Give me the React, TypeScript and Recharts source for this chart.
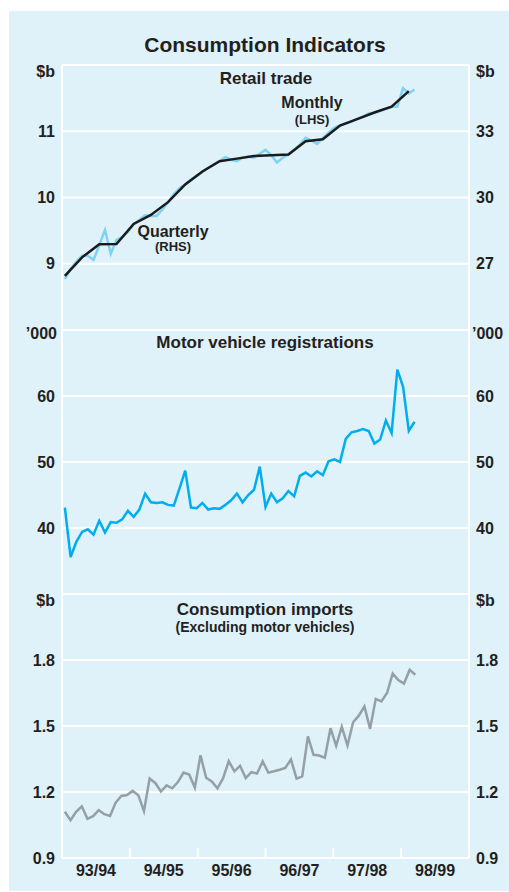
import React from "react";
import { LineChart, Line, XAxis, YAxis, CartesianGrid } from "recharts";

// monthly, Jul 1993 onwards ('000 registrations)
const motorVehicles = [
  43.1, 35.6, 37.9, 39.4, 39.8, 39.0, 41.1, 39.3, 40.9, 40.8, 41.3, 42.6,
  41.7, 42.8, 45.2, 43.9, 43.8, 43.9, 43.5, 43.4, 46.0, 48.7, 43.1, 43.0,
  43.8, 42.8, 43.0, 42.9, 43.5, 44.2, 45.2, 43.9, 45.0, 45.8, 49.3, 43.2,
  45.2, 43.9, 44.5, 45.6, 44.8, 47.9, 48.4, 47.8, 48.6, 48.0, 50.1, 50.4,
  50.0, 53.5, 54.5, 54.7, 55.0, 54.7, 52.8, 53.4, 56.3, 54.4, 64.0, 61.4,
  54.7, 56.1,
];

// retail trade, monthly $b (LHS)
const retailMonthly = [
  8.77, 8.92, 9.03, 9.12, 9.12, 9.06, 9.28, 9.51, 9.15, 9.36, 9.4, 9.48,
  9.6, 9.66, 9.73, 9.72, 9.72, 9.82, 9.93, 10.05, 10.14, 10.2, 10.27, 10.33,
  10.39, 10.45, 10.5, 10.55, 10.61, 10.57, 10.55, 10.6, 10.62, 10.6, 10.66, 10.72,
  10.64, 10.53, 10.6, 10.65, 10.72, 10.8, 10.9, 10.86, 10.81, 10.9, 10.98, 11.05,
  11.09, 11.12, 11.15, 11.19, 11.22, 11.27, 11.28, 11.31, 11.34, 11.37, 11.37, 11.65,
  11.57, 11.63,
];

// retail trade, quarterly $b (RHS)
const retailQuarterly = [
  26.45, 27.29, 27.88, 27.89, 28.8, 29.21, 29.79, 30.59, 31.18, 31.64, 31.76,
  31.88, 31.91, 31.95, 32.55, 32.64, 33.26, 33.55, 33.85, 34.11, 34.82,
];

// consumption imports excl. motor vehicles, monthly $b
const imports = [
  1.11, 1.072, 1.11, 1.135, 1.078, 1.09, 1.117, 1.099, 1.091, 1.152, 1.182, 1.186,
  1.205, 1.185, 1.113, 1.261, 1.241, 1.202, 1.23, 1.217, 1.245, 1.288, 1.279, 1.22,
  1.367, 1.265, 1.248, 1.217, 1.263, 1.34, 1.294, 1.319, 1.263, 1.29, 1.284, 1.339,
  1.288, 1.294, 1.301, 1.309, 1.348, 1.261, 1.271, 1.453, 1.369, 1.366, 1.356, 1.49,
  1.41, 1.497, 1.411, 1.517, 1.547, 1.589, 1.487, 1.623, 1.612, 1.65, 1.738, 1.709,
  1.693, 1.755, 1.733,
];

const yearLabels = ["93/94", "94/95", "95/96", "96/97", "97/98", "98/99"];

const BG = "#dff1f9";
const INK = "#231f20";
const FONT = '"Liberation Sans", Arial, Helvetica, sans-serif';
const W = 500;
const LEFT_W = 53;
const RIGHT_W = 40;

const retailRows = retailMonthly.map((m, i) => ({
  x: i + 0.5,
  m,
  q: i % 3 === 0 && retailQuarterly[i / 3] !== undefined ? retailQuarterly[i / 3] : null,
}));
const mvRows = motorVehicles.map((v, i) => ({ x: i + 0.5, v }));
const importRows = imports.map((v, i) => ({ x: i + 0.5, v }));

const tickStyle = { fill: INK, fontSize: 16, fontWeight: 700, fontFamily: FONT };
const border = { stroke: "#fff", strokeWidth: 2 };

const hideEdges = (lo: number | null, hi: number | null, digits = 0) => (v: number) =>
  (lo !== null && v <= lo + 1e-9) || (hi !== null && v >= hi - 1e-9) ? "" : v.toFixed(digits);

function YearTick(props: any) {
  const { x, y, payload } = props;
  const v = payload.value;
  if (v % 12 === 0) {
    return <line x1={x} x2={x} y1={y} y2={y - 10} stroke="#fff" strokeWidth={2} />;
  }
  return (
    <text x={x} y={y + 12} dy="0.355em" textAnchor="middle" {...tickStyle}>
      {yearLabels[(v - 6) / 12]}
    </text>
  );
}

function Txt({ x, y, size, children, align = "center" }: any) {
  const tx = align === "center" ? "-50%" : align === "right" ? "-100%" : "0";
  return (
    <div
      style={{
        position: "absolute",
        left: x,
        top: y,
        transform: `translate(${tx}, -50%)`,
        fontFamily: FONT,
        fontWeight: 700,
        fontSize: size,
        lineHeight: 1,
        color: INK,
        whiteSpace: "nowrap",
      }}
    >
      {children}
    </div>
  );
}

// left + right value axes, same look on every panel
function valueAxes(domain: number[], ticks: number[], fmt: (v: number) => string, rightDomain = domain, rightTicks = ticks, rightFmt = fmt) {
  return [
    <YAxis
      key="l"
      width={LEFT_W}
      domain={domain}
      ticks={ticks}
      type="number"
      tickFormatter={fmt}
      tick={tickStyle}
      tickSize={0}
      tickMargin={7}
      axisLine={border}
      allowDataOverflow
    />,
    <YAxis
      key="r"
      yAxisId="r"
      orientation="right"
      width={RIGHT_W}
      domain={rightDomain}
      ticks={rightTicks}
      type="number"
      tickFormatter={rightFmt}
      tick={tickStyle}
      tickSize={0}
      tickMargin={7}
      axisLine={border}
      allowDataOverflow
    />,
  ];
}

export default function App() {
  return (
    <div
      style={{
        position: "absolute",
        left: 9,
        top: 11,
        width: W,
        height: 880,
        background: BG,
        overflow: "hidden",
      }}
    >
      {/* Retail trade */}
      <div style={{ position: "absolute", left: 0, top: 0 }}>
        <LineChart width={W} height={319} data={retailRows} margin={{ top: 54, right: 0, bottom: 0, left: 0 }}>
          <CartesianGrid vertical={false} stroke="#fff" strokeWidth={2} />
          <XAxis type="number" dataKey="x" domain={[0, 71]} hide />
          {valueAxes([8, 12], [8, 9, 10, 11, 12], hideEdges(8, 12), [24, 36], [24, 27, 30, 33, 36], hideEdges(24, 36))}
          <Line type="linear" dataKey="m" stroke="#7fd2f4" strokeWidth={2.5} dot={false} isAnimationActive={false} />
          <Line
            type="linear"
            dataKey="q"
            yAxisId="r"
            stroke="#1b1b1b"
            strokeWidth={2.5}
            dot={false}
            connectNulls
            isAnimationActive={false}
          />
        </LineChart>
      </div>

      {/* Motor vehicle registrations */}
      <div style={{ position: "absolute", left: 0, top: 319 }}>
        <LineChart width={W} height={264} data={mvRows} margin={{ top: 0, right: 0, bottom: 0, left: 0 }}>
          <CartesianGrid vertical={false} stroke="#fff" strokeWidth={2} />
          <XAxis type="number" dataKey="x" domain={[0, 71]} hide />
          {valueAxes([30, 70], [30, 40, 50, 60, 70], hideEdges(30, 70))}
          <Line type="linear" dataKey="v" stroke="#00aeef" strokeWidth={2.5} dot={false} isAnimationActive={false} />
          {/* right scale mirrors the left one */}
          <Line yAxisId="r" dataKey="v" hide isAnimationActive={false} />
        </LineChart>
      </div>

      {/* Consumption imports */}
      <div style={{ position: "absolute", left: 0, top: 583 }}>
        <LineChart width={W} height={297} data={importRows} margin={{ top: 0, right: 0, bottom: 0, left: 0 }}>
          <CartesianGrid vertical={false} stroke="#fff" strokeWidth={2} />
          <XAxis
            type="number"
            dataKey="x"
            domain={[0, 72]}
            ticks={[6, 12, 18, 24, 30, 36, 42, 48, 54, 60, 66]}
            interval={0}
            height={33}
            tick={<YearTick />}
            tickSize={0}
            tickMargin={0}
            axisLine={border}
          />
          {valueAxes([0.9, 2.1], [0.9, 1.2, 1.5, 1.8, 2.1], hideEdges(null, 2.1, 1))}
          <Line type="linear" dataKey="v" stroke="#95a0a6" strokeWidth={2.5} dot={false} isAnimationActive={false} />
          <Line yAxisId="r" dataKey="v" hide isAnimationActive={false} />
        </LineChart>
      </div>

      <Txt x={256} y={33} size={21}>Consumption Indicators</Txt>

      <Txt x={46} y={61} size={16} align="right">$b</Txt>
      <Txt x={467} y={61} size={16} align="left">$b</Txt>
      <Txt x={257} y={67} size={17}>Retail trade</Txt>
      <Txt x={303} y={92} size={16}>Monthly</Txt>
      <Txt x={303} y={108} size={13}>(LHS)</Txt>
      <Txt x={164} y={221} size={16}>Quarterly</Txt>
      <Txt x={164} y={235} size={13}>(RHS)</Txt>

      <Txt x={48} y={323} size={16} align="right">’000</Txt>
      <Txt x={463} y={323} size={16} align="left">’000</Txt>
      <Txt x={256} y={331} size={17}>Motor vehicle registrations</Txt>

      <Txt x={46} y={590} size={16} align="right">$b</Txt>
      <Txt x={467} y={590} size={16} align="left">$b</Txt>
      <Txt x={256} y={598} size={17}>Consumption imports</Txt>
      <Txt x={256} y={616} size={14}>(Excluding motor vehicles)</Txt>
    </div>
  );
}
